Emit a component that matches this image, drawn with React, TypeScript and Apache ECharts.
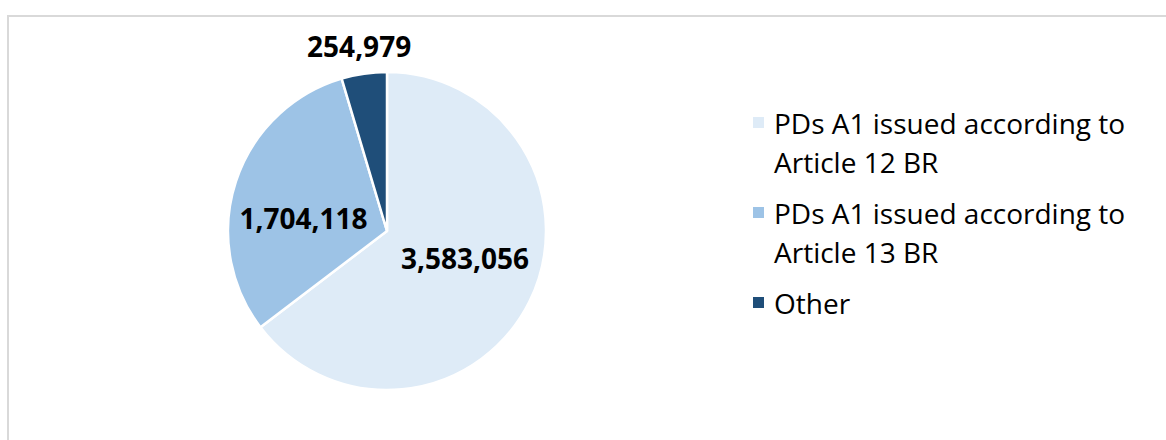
import React, { useEffect, useRef } from "react";
import * as echarts from "echarts";

const categories = [
  "PDs A1 issued according to Article 12 BR",
  "PDs A1 issued according to Article 13 BR",
  "Other",
];
const values = [3583056, 1704118, 254979];
const colors = ["#DEEBF7", "#9DC3E6", "#1F4E79"];
const labelOffsets = [
  [4, -10],
  [-5, 13],
  [-16, -103],
];
const legendTops = [64, 154, 283];

export default function App() {
  const ref = useRef<HTMLDivElement>(null);
  useEffect(() => {
    if (!ref.current) return;
    const chart = echarts.init(ref.current, undefined, { renderer: "svg" });
    const fontFamily = "'Open Sans', sans-serif";
    const legends = categories.map((name, i) => {
      const twoLine = name.indexOf(" Article") >= 0;
      return {
        data: [name],
        orient: "vertical",
        left: 751,
        top: legendTops[i],
        padding: 0,
        itemWidth: 13,
        itemHeight: 13,
        icon: "rect",
        selectedMode: false,
        formatter: (n: string) =>
          twoLine ? "\n" + n.replace(" Article", "\nArticle") : n,
        textStyle: {
          fontFamily,
          fontSize: 28,
          lineHeight: 39,
          color: "#000",
          padding: [0, 0, 0, 4],
        },
      };
    });
    chart.setOption({
      animation: false,
      backgroundColor: "#fff",
      graphic: [
        {
          type: "rect",
          shape: { x: 8, y: 16, width: 1300, height: 600 },
          style: { fill: "none", stroke: "#D9D9D9", lineWidth: 2 },
          silent: true,
        },
      ],
      legend: legends,
      series: [
        {
          type: "pie",
          center: [387, 231],
          radius: 159,
          startAngle: 90,
          clockwise: true,
          itemStyle: { borderColor: "#fff", borderWidth: 2.5 },
          label: {
            show: true,
            position: "inside",
            fontFamily,
            fontSize: 28,
            fontWeight: "bold",
            color: "#000",
            formatter: (p: any) => Number(p.value).toLocaleString("en-US"),
          },
          labelLine: { show: false },
          emphasis: { disabled: true },
          data: categories.map((name, i) => ({
            name,
            value: values[i],
            itemStyle: { color: colors[i] },
            label: { offset: labelOffsets[i] },
          })),
        },
      ],
    });
    return () => chart.dispose();
  }, []);
  return (
    <div
      ref={ref}
      style={{ position: "absolute", left: 0, top: 0, width: 1166, height: 440 }}
    />
  );
}
